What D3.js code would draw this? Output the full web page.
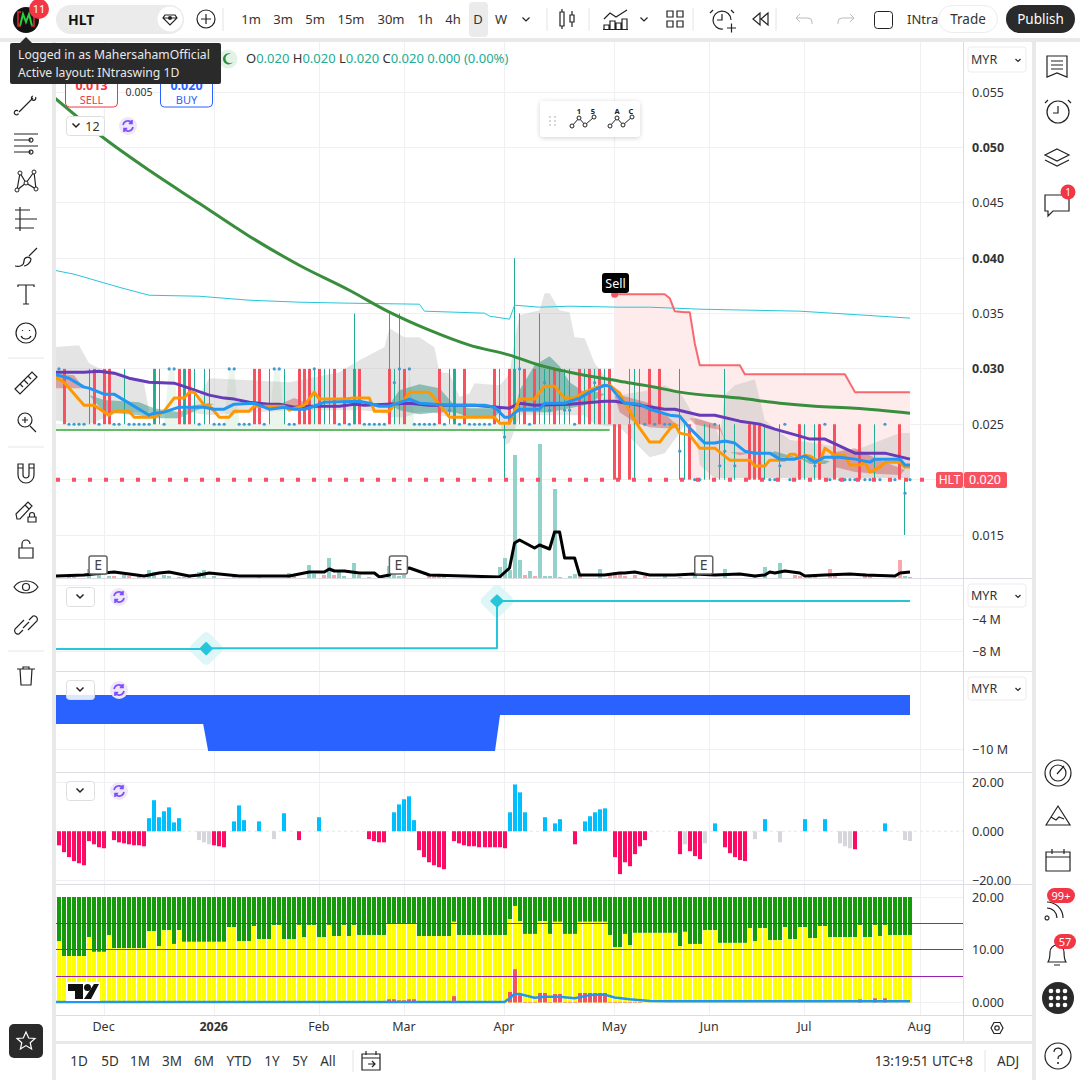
<!DOCTYPE html>
<html>
<head>
<meta charset="utf-8">
<title>HLT</title>
<script src="https://cdn.jsdelivr.net/npm/d3@7"></script>
<style>
html, body { margin: 0; padding: 0; background: #fff; }
svg { display: block; font-family: "Noto Sans", sans-serif; }
.ink { fill: none; stroke: #222; stroke-width: 1.2; }
.axis text { fill: #333; font-size: 12.5px; font-family: "Noto Sans", sans-serif; }
.axis .domain, .axis line { display: none; }
</style>
</head>
<body>
<script>
// bar index 0 is the first bar at the left edge, 170 the last
var timeIdx = [9, 31, 52, 69, 89, 111, 130, 149, 172];
var timeLabels = ["Dec", "2026", "Feb", "Mar", "Apr", "May", "Jun", "Jul", "Aug"];
var priceTicks = [0.015, 0.020, 0.025, 0.030, 0.035, 0.040, 0.045, 0.050, 0.055];
var priceLabelTicks = [0.015, 0.025, 0.030, 0.035, 0.040, 0.045, 0.050, 0.055];
var boldPrices = [0.030, 0.040, 0.050];

// candles: every price sits on the 0.005 grid
var redUpper = [1, 7, 9, 10, 19, 24, 25, 26, 39, 40, 48, 49, 50, 52, 55, 57, 59, 60, 66, 69, 76, 79, 81, 87, 90, 91, 93, 95, 99, 104, 106, 108, 110, 118, 120];
var redLower = [111, 112, 114, 126, 138, 139, 140, 148, 152, 155, 160, 168];
var thinRed = [114];
var wickIdx = [6, 10, 13, 19, 20, 25, 27, 29, 30, 42, 45, 48, 50, 51, 53, 54, 59, 66, 67, 68, 78, 79, 88, 89, 91, 92, 96, 97, 98, 100, 101, 102, 105, 107, 109, 115, 116, 124, 125, 129, 130, 132, 133, 135, 138, 140, 141, 144, 148, 149, 151, 152, 160, 163, 169];
var wickHigh = [0.03, 0.03, 0.03, 0.03, 0.03, 0.03, 0.03, 0.03, 0.03, 0.03, 0.03, 0.03, 0.03, 0.03, 0.03, 0.03, 0.035, 0.035, 0.03, 0.035, 0.03, 0.03, 0.03, 0.025, 0.04, 0.035, 0.035, 0.03, 0.03, 0.03, 0.03, 0.03, 0.03, 0.03, 0.03, 0.03, 0.03, 0.03, 0.025, 0.025, 0.025, 0.025, 0.03, 0.025, 0.025, 0.025, 0.025, 0.025, 0.025, 0.025, 0.025, 0.025, 0.025, 0.025, 0.02];
var wickLow = [0.025, 0.025, 0.025, 0.025, 0.025, 0.025, 0.025, 0.025, 0.025, 0.025, 0.025, 0.025, 0.025, 0.025, 0.025, 0.025, 0.025, 0.025, 0.025, 0.025, 0.025, 0.025, 0.025, 0.02, 0.025, 0.025, 0.025, 0.025, 0.025, 0.025, 0.025, 0.025, 0.025, 0.025, 0.025, 0.02, 0.025, 0.02, 0.02, 0.02, 0.02, 0.02, 0.02, 0.02, 0.02, 0.02, 0.02, 0.02, 0.02, 0.02, 0.02, 0.02, 0.02, 0.02, 0.015];

// small blue closes
var dots025 = [2, 3, 4, 5, 8, 11, 12, 14, 15, 16, 17, 18, 21, 28, 31, 32, 33, 36, 37, 38, 41, 46, 47, 56, 58, 61, 62, 63, 64, 65, 71, 72, 73, 74, 75, 77, 80, 82, 83, 84, 85, 86, 94, 103, 117, 119, 121, 122, 131, 145, 153, 165];
var dots020 = [127, 128, 142, 143, 146, 147, 154, 156, 157, 158, 159, 161, 162, 164, 167, 170];
var dots030 = [0, 22, 23, 34, 35, 43, 44, 51, 68, 70, 92];
var dots029 = [67, 97, 107];
var dots026 = [78, 88, 98, 101, 102];
var dots0226 = [124, 133];
var dots021 = [132, 135, 144, 151];
var dotsOther = [89, 169];
var dotsOtherPrice = [0.02384, 0.01878];

// moving averages, read at the visible corners of each line
var greenIdx = [-1, 9, 18, 28, 38, 48, 58, 66, 74, 82, 90, 96, 102, 112, 118, 124, 136, 144, 151, 159, 170];
var greenVal = [0.05452, 0.05082, 0.04793, 0.04495, 0.04198, 0.03936, 0.0371, 0.03512, 0.03349, 0.03214, 0.03124, 0.03033, 0.0297, 0.02889, 0.02844, 0.0279, 0.02736, 0.0269, 0.02663, 0.02645, 0.026];
var cyanIdx = [-1, 3, 12, 18, 28, 38, 48, 58, 72, 73, 85, 86, 90, 91, 96, 102, 112, 118, 128, 148, 164, 170];
var cyanVal = [0.03891, 0.03855, 0.03737, 0.03665, 0.03656, 0.0362, 0.03602, 0.03593, 0.03584, 0.03521, 0.03503, 0.03476, 0.03449, 0.03575, 0.03557, 0.03566, 0.03557, 0.03557, 0.03539, 0.03521, 0.03476, 0.03458];
var purpleIdx = [-1, 5, 8, 11, 14, 18, 23, 26, 30, 33, 35, 38, 42, 44, 47, 50, 56, 59, 61, 70, 74, 83, 90, 92, 95, 102, 109, 111, 116, 121, 123, 128, 131, 136, 140, 143, 148, 150, 153, 159, 165, 170];
var purpleVal = [0.0297, 0.0297, 0.02979, 0.02961, 0.02916, 0.0288, 0.02871, 0.02826, 0.02763, 0.02736, 0.02727, 0.02699, 0.02681, 0.02681, 0.02654, 0.02663, 0.02663, 0.02681, 0.02672, 0.0269, 0.02672, 0.02672, 0.02645, 0.02690, 0.02672, 0.02681, 0.02708, 0.02708, 0.02672, 0.02636, 0.02636, 0.02582, 0.02582, 0.02528, 0.02501, 0.02456, 0.02393, 0.02366, 0.02366, 0.02239, 0.02239, 0.02185];
var blueIdx = [-1, 2, 5, 6, 9, 11, 18, 19, 21, 24, 29, 31, 33, 35, 39, 42, 45, 47, 49, 51, 53, 60, 62, 64, 66, 70, 72, 78, 85, 87, 89, 90, 92, 96, 97, 101, 104, 106, 109, 110, 112, 113, 116, 118, 122, 124, 126, 129, 131, 133, 135, 137, 139, 142, 144, 147, 149, 151, 153, 156, 159, 162, 163, 168, 169, 170];
var blueVal = [0.02952, 0.02916, 0.02835, 0.02826, 0.02772, 0.02772, 0.02582, 0.026, 0.02609, 0.02654, 0.02654, 0.02636, 0.02636, 0.02681, 0.0269, 0.02636, 0.02654, 0.02636, 0.02636, 0.02663, 0.02699, 0.02708, 0.0269, 0.02663, 0.02663, 0.02727, 0.0269, 0.02672, 0.02672, 0.02654, 0.02564, 0.02564, 0.02636, 0.02636, 0.0269, 0.0269, 0.02736, 0.0279, 0.02853, 0.02844, 0.02736, 0.0269, 0.02681, 0.02636, 0.02582, 0.02573, 0.02465, 0.0233, 0.0233, 0.02348, 0.0233, 0.02257, 0.02239, 0.02239, 0.02185, 0.02185, 0.02212, 0.02158, 0.02203, 0.02203, 0.02185, 0.02158, 0.02185, 0.02185, 0.02131, 0.02131];
var orangeIdx = [-1, 1, 5, 7, 10, 11, 14, 15, 19, 21, 23, 25, 26, 27, 29, 30, 32, 34, 35, 38, 39, 45, 46, 49, 51, 52, 57, 59, 62, 63, 66, 67, 69, 70, 74, 78, 87, 88, 90, 92, 95, 97, 99, 101, 103, 105, 108, 110, 112, 115, 116, 118, 120, 122, 123, 124, 126, 128, 131, 134, 138, 139, 141, 142, 145, 146, 147, 148, 149, 150, 152, 153, 155, 157, 158, 160, 161, 162, 164, 165, 168, 169, 170];
var orangeVal = [0.02934, 0.0288, 0.02672, 0.02672, 0.02582, 0.02618, 0.02618, 0.02564, 0.02564, 0.02618, 0.02736, 0.02736, 0.0279, 0.0279, 0.02672, 0.02672, 0.02564, 0.02564, 0.02618, 0.02618, 0.02663, 0.02663, 0.02627, 0.02672, 0.0279, 0.02727, 0.02727, 0.02736, 0.02736, 0.02618, 0.02618, 0.02681, 0.02718, 0.0279, 0.0279, 0.02564, 0.02564, 0.0251, 0.0251, 0.02727, 0.02727, 0.02844, 0.02844, 0.02736, 0.02736, 0.0279, 0.02844, 0.02853, 0.02781, 0.02537, 0.02465, 0.02339, 0.02339, 0.02456, 0.02501, 0.0242, 0.02402, 0.02284, 0.02284, 0.02176, 0.02176, 0.02122, 0.02122, 0.02176, 0.02176, 0.0223, 0.0223, 0.02185, 0.02221, 0.02212, 0.02158, 0.02284, 0.02221, 0.02221, 0.02131, 0.02131, 0.02158, 0.02068, 0.02113, 0.02158, 0.02158, 0.02113, 0.02113];

// trailing stop after the sell signal and the shaded block under it
var trailIdx = [111, 121, 122, 123, 125, 126, 127, 128, 136, 137, 157, 159, 170];
var trailVal = [0.03674, 0.03674, 0.03638, 0.03521, 0.03512, 0.03512, 0.03232, 0.03033, 0.03033, 0.02952, 0.02952, 0.0279, 0.0279];
var trailLow = [0.025, 0.025, 0.025, 0.025, 0.025, 0.0201, 0.0201, 0.0201, 0.0201, 0.0201, 0.0201, 0.0201, 0.0201];

// grey, teal and red bands; top equals bottom where a band pinches out
var greyIdx = [-1, 4, 6, 8, 12, 17, 18, 26, 30, 46, 56, 60, 65, 66, 69, 72, 75, 76, 78, 80, 82, 83, 88, 89, 90, 91, 92, 96, 97, 98, 100, 102, 103, 105, 107, 112, 118, 121, 124, 125, 127, 128, 131, 132, 133, 135, 139, 141, 146, 151, 159, 168, 170];
var greyTop = [0.03196, 0.03214, 0.03051, 0.03006, 0.0297, 0.02871, 0.02609, 0.02609, 0.02916, 0.0288, 0.0297, 0.03078, 0.03196, 0.03367, 0.03286, 0.03286, 0.03196, 0.0297, 0.02961, 0.02745, 0.02781, 0.02871, 0.02853, 0.02898, 0.02961, 0.03259, 0.03485, 0.0353, 0.03683, 0.03683, 0.0353, 0.03512, 0.03286, 0.03277, 0.03051, 0.02763, 0.02808, 0.02853, 0.0279, 0.0272, 0.02564, 0.0255, 0.02501, 0.02357, 0.02763, 0.02853, 0.02907, 0.02537, 0.02357, 0.0233, 0.02266, 0.0242, 0.0242];
var greyBot = [0.02537, 0.02501, 0.02501, 0.02537, 0.02609, 0.02609, 0.02609, 0.02609, 0.02582, 0.02627, 0.02627, 0.02627, 0.02609, 0.02564, 0.02564, 0.02609, 0.02609, 0.02582, 0.02564, 0.02564, 0.02564, 0.02564, 0.02564, 0.02311, 0.0233, 0.02447, 0.02582, 0.02582, 0.02582, 0.02582, 0.02582, 0.02582, 0.02582, 0.02582, 0.02501, 0.02474, 0.02203, 0.02239, 0.0242, 0.02501, 0.02564, 0.02131, 0.02014, 0.02014, 0.02014, 0.02014, 0.02014, 0.02014, 0.02014, 0.02014, 0.02014, 0.02014, 0.02014];
var tealIdx = [6, 9, 16, 19, 24, 27, 30, 31, 66, 68, 72, 76, 79, 82, 87, 88, 91, 92, 95, 98, 100, 102, 105, 107, 109, 142, 143, 145, 148, 150, 153, 154, 167, 169];
var tealTop = [0.02763, 0.02718, 0.02699, 0.02645, 0.02609, 0.02672, 0.0269, 0.02681, 0.02681, 0.02808, 0.02862, 0.02826, 0.02672, 0.02645, 0.02645, 0.02609, 0.02609, 0.02808, 0.03033, 0.03115, 0.03024, 0.02880, 0.02790, 0.02799, 0.02772, 0.02239, 0.02257, 0.0223, 0.02194, 0.02176, 0.02176, 0.02167, 0.02167, 0.02149];
var tealBot = [0.02763, 0.02609, 0.02582, 0.02555, 0.02555, 0.02618, 0.02672, 0.02681, 0.02681, 0.02627, 0.02591, 0.02609, 0.02609, 0.02564, 0.02564, 0.02609, 0.02609, 0.02609, 0.02609, 0.02609, 0.02627, 0.02645, 0.02672, 0.02718, 0.02772, 0.02239, 0.02194, 0.02203, 0.02194, 0.0214, 0.0214, 0.02167, 0.02167, 0.02095];
var redBandIdx = [-1, 3, 5, 44, 47, 50, 51, 111, 112, 115, 118, 121, 123, 124, 126, 127, 132, 133, 134, 136, 138, 154, 155, 159, 164, 168, 169];
var redBandTop = [0.02961, 0.02943, 0.02826, 0.02681, 0.02736, 0.02681, 0.02654, 0.02754, 0.02763, 0.02727, 0.0269, 0.026, 0.0251, 0.02492, 0.02555, 0.02555, 0.02492, 0.02357, 0.02248, 0.02248, 0.02239, 0.02248, 0.02248, 0.02284, 0.02176, 0.02104, 0.02086];
var redBandBot = [0.02826, 0.02826, 0.02826, 0.02681, 0.02627, 0.02627, 0.02654, 0.02754, 0.02609, 0.02519, 0.02474, 0.02465, 0.02465, 0.02492, 0.02555, 0.02501, 0.02447, 0.02357, 0.02248, 0.02221, 0.02239, 0.02248, 0.02113, 0.02068, 0.0205, 0.02041, 0.02086];
var supportIdx = [-1, 21, 22, 23, 24, 33, 34, 35, 36, 42, 43, 44, 45, 50, 51, 52, 67, 68, 69, 70, 71, 110];
var supportTop = [0.025, 0.025, 0.03, 0.03, 0.025, 0.025, 0.03, 0.03, 0.025, 0.025, 0.03, 0.03, 0.025, 0.025, 0.03, 0.025, 0.025, 0.03, 0.025, 0.03, 0.025, 0.025];
var supportLine = 0.02447;
var lastClose = 0.020;

// volume in millions
var volUpIdx = [6, 8, 10, 13, 18, 19, 21, 22, 25, 28, 29, 31, 46, 50, 51, 54, 56, 57, 59, 60, 66, 67, 68, 69, 77, 88, 89, 90, 91, 92, 94, 96, 97, 98, 99, 100, 102, 103, 108, 121, 127, 133, 139, 141, 144, 150, 151, 169, 170];
var volUpVal = [0.9, 0.4, 0.2, 0.3, 0.8, 0.6, 0.3, 0.2, 0.1, 0.6, 0.8, 0.2, 0.5, 1.3, 0.4, 2.0, 0.6, 0.2, 1.5, 0.3, 1.2, 0.4, 0.2, 0.3, 0.2, 1.1, 2.0, 0.8, 12.3, 1.8, 0.7, 13.4, 0.2, 0.2, 8.9, 0.1, 0.2, 0.4, 0.9, 0.2, 0.3, 0.9, 0.2, 1.1, 1.5, 0.1, 0.2, 0.2, 0.1];
var volDownIdx = [2, 3, 11, 14, 16, 24, 26, 35, 40, 47, 53, 55, 62, 74, 75, 76, 93, 95, 104, 110, 111, 112, 113, 115, 117, 124, 147, 148, 154, 155, 161, 162, 168];
var volDownVal = [0.2, 0.1, 0.2, 0.2, 0.3, 0.1, 0.2, 0.1, 0.1, 0.2, 0.3, 0.3, 0.1, 0.2, 0.4, 0.3, 0.3, 0.2, 0.2, 0.3, 0.6, 0.5, 0.2, 0.3, 0.2, 0.1, 0.3, 0.2, 0.9, 0.3, 0.5, 0.3, 1.8];
var volMaIdx = [-1, 5, 11, 14, 17, 20, 22, 26, 28, 30, 32, 36, 46, 50, 53, 54, 55, 57, 60, 63, 64, 66, 67, 70, 74, 88, 90, 91, 92, 95, 96, 98, 99, 100, 101, 103, 104, 109, 112, 113, 115, 118, 123, 127, 131, 136, 139, 141, 142, 143, 145, 148, 149, 153, 158, 161, 167, 168, 170];
var volMaVal = [0.2, 0.3, 0.6, 0.4, 0.2, 0.5, 0.6, 0.2, 0.3, 0.5, 0.4, 0.2, 0.2, 0.6, 0.6, 0.9, 0.7, 0.7, 0.5, 0.5, 0.1, 0.3, 0.8, 1.0, 0.3, 0.1, 1.0, 3.5, 3.8, 3.0, 3.3, 2.9, 4.6, 4.6, 2.0, 2.0, 0.3, 0.3, 0.5, 0.5, 0.6, 0.3, 0.3, 0.4, 0.3, 0.4, 0.2, 0.3, 0.6, 0.5, 0.7, 0.5, 0.2, 0.3, 0.4, 0.3, 0.2, 0.5, 0.6];
var earningsIdx = [8, 68, 129];

// cash flow panes, millions
var flowIdx = [-1, 29.4, 29.4, 87.5, 87.5, 170];
var flowVal = [-7.75, -7.75, -7.65, -7.65, -1.75, -1.75];
var flowMarkIdx = [29.4, 87.5];
var flowMarkVal = [-7.7, -1.75];
var flowTicks = [-8, -4];
var netIdx = [-1, 28.8, 29.8, 87.1, 88.1, 170];
var netTop = [-4.6, -4.6, -4.6, -4.6, -4.6, -4.6];
var netBot = [-7.5, -7.5, -10.2, -10.2, -6.6, -6.6];
var netTicks = [-10];

// oscillator histogram
var oscIdx = [0, 1, 2, 3, 4, 5, 6, 7, 8, 9, 11, 12, 13, 14, 15, 16, 17, 18, 19, 20, 21, 22, 23, 24, 28, 29, 30, 31, 32, 33, 35, 36, 37, 40, 43, 45, 48, 52, 62, 63, 64, 65, 67, 68, 69, 70, 71, 72, 73, 74, 75, 76, 77, 79, 80, 81, 82, 83, 84, 85, 86, 87, 88, 89, 90, 91, 92, 93, 97, 99, 100, 103, 105, 106, 107, 108, 109, 111, 112, 113, 114, 115, 116, 117, 124, 125, 126, 127, 128, 129, 131, 133, 134, 135, 136, 137, 139, 141, 144, 149, 153, 156, 157, 158, 159, 165, 169, 170];
var oscVal = [-5.7, -8.5, -10.5, -12.1, -13, -13.8, -4, -5.3, -6.5, -6.9, -3.6, -4.5, -4.9, -5.3, -5.7, -5.7, -6.1, 5.3, 12.6, 5.7, 8.1, 9.7, 3.6, 5.3, -3.6, -4.5, -5.3, -5.7, -6.1, -6.5, 4, 10.5, 4.5, 4, -3.2, 7.3, -3.6, 5.7, -3.2, -4, -4.5, -4.5, 7.7, 10.9, 13, 14.2, 4.5, -7.7, -10.5, -12.6, -13.8, -14.6, -15.4, -4, -4.9, -5.7, -6.1, -6.1, -6.5, -6.5, -6.5, -6.5, -6.5, -6.9, 7.7, 19, 15.8, 7.7, 5.7, 3.2, 4.9, -5.3, 4, 6.1, 7.7, 8.9, 9.3, -10.5, -17.4, -12.6, -14.2, -9.3, -6.1, -3.6, -9.3, -5.3, -8.1, -10.1, -11.3, -4.9, 3.2, -6.5, -8.9, -10.5, -11.7, -12.1, -3.2, 4.9, -4.5, 4.9, 4.9, -4.9, -6.1, -6.9, -7.3, 3.2, -3.6, -4];
var oscGrey = [28, 29, 30, 43, 125, 129, 139, 144, 156, 157, 158, 169, 170];
var oscTicks = [-20, 0, 20];

// stacked pane: yellow level per bar, green always runs up to 20
var yellowVal = [11.6, 8.8, 8.8, 8.8, 8.8, 8.8, 12.4, 9.6, 9.6, 9.6, 12.8, 10.3, 10.3, 10.3, 10.3, 10.3, 10.3, 10.3, 13.5, 13.5, 10.7, 13.7, 13.7, 11.1, 13.7,
    11.5, 11.5, 11.5, 11.5, 11.5, 11.5, 11.5, 11.5, 11.5, 14.3, 14.3, 11.6, 11.6, 11.6, 14.5, 12, 12, 12, 14.7, 14.7, 12, 12, 12, 14.7, 12.4, 14.7, 14.7, 12.4, 12.4, 14.7, 12.6, 12.6, 14.7, 12.6, 14.7,
    12.8, 12.8, 12.8, 12.8, 12.8, 12.8, 14.9, 14.9, 14.9, 14.9, 14.9, 14.9, 12.6, 12.6, 12.6, 12.6, 12.6, 12.6, 12.6, 15.3, 12.8, 12.8, 12.8, 12.8, 12.8, 12.8, 12.8, 12.8, 12.8, 12.8,
    15.8, 18.3, 15.4, 13, 13, 13, 15.4, 15.4, 13, 15.3, 15.3, 13, 13, 13, 15.3, 15.3, 15.3, 15.3, 15.3, 15.3, 12.8, 10.5, 10.5, 13, 10.9,
    13.2, 13.2, 13.2, 13.2, 13.2, 13.2, 13.2, 13.2, 13.2, 10.7, 13.4, 11.1, 11.1, 11.1, 13.7, 13.7, 13.7, 11.3, 11.3, 11.3, 11.3, 11.3, 11.3, 14.1, 11.6, 14.1, 14.1, 11.8, 11.8, 11.8, 14.3, 12, 12, 14.3, 14.3, 12.2, 12.2, 14.5, 14.5,
    12.4, 12.4, 12.4, 12.4, 12.4, 12.4, 14.7, 12.4, 12.4, 14.7, 12.6, 14.7, 12.8, 12.8, 12.8, 12.8, 12.8];
var stackRedIdx = [66, 67, 68, 69, 70, 71, 79, 90, 91, 92, 93, 94, 95, 96, 97, 98, 99, 100, 101, 102, 103, 104, 105, 106, 107, 108, 109, 110, 111, 112, 113, 114, 115, 116, 160, 163, 165];
var stackRedVal = [0.6, 0.6, 0.4, 0.4, 0.6, 0.6, 1.2, 2.0, 6.3, 1.4, 0.1, 0.1, 0.1, 1.8, 1.8, 0.1, 1.6, 1.6, 0.1, 0.1, 0.1, 1.8, 1.8, 1.8, 1.8, 1.8, 1.8, 0.1, 0.1, 0.1, 0.1, 0.1, 0.1, 0.1, 0.6, 0.8, 0.8];
var stackLineIdx = [-1, 89, 90, 91, 92, 95, 97, 100, 103, 106, 109, 111, 114, 118, 122, 170];
var stackLineVal = [0.1, 0.1, 0.8, 1.6, 1.6, 0.9, 1.1, 1.1, 0.8, 1.4, 1.5, 0.95, 0.6, 0.3, 0.25, 0.25];
var stackLevels = [5, 10, 15];
var stackTicks = [0, 10, 20];

var rangeLabels = ["1D", "5D", "1M", "3M", "6M", "YTD", "1Y", "5Y", "All"];
var rangeX = [79, 110, 140, 172, 204, 239, 272, 300, 328];
var intervalLabels = ["1m", "3m", "5m", "15m", "30m", "1h", "4h", "D", "W"];
var intervalX = [251, 283, 315, 351, 391, 425, 453, 478, 501];

(function () {
    "use strict";
    var PLOT_LEFT = 56, PLOT_RIGHT = 963,
        STRIP = "#e9e9e9", GRID = "#f0f0f3",
        TEAL = "#22ab94", RED = "#f7525f", TEXT = "#333",
        svg = d3.select("body").append("svg").attr("width", 1080).attr("height", 1080),
        defs = svg.append("defs"),
        x = d3.scaleLinear().domain([0, 170]).range([59, 910]),
        yPrice = d3.scaleLinear().domain([0.015, 0.055]).range([535, 92]),
        yVol = d3.scaleLinear().domain([0, 13.4]).range([578, 444]),
        yFlow = d3.scaleLinear().domain([-8, -4]).range([651, 619]),
        yNet = d3.scaleLinear().domain([-10, -4.6]).range([749, 695]),
        yOsc = d3.scaleLinear().domain([-20, 20]).range([880.5, 782]),
        yStack = d3.scaleLinear().domain([0, 20]).range([1002.5, 897]),
        panes = [[42, 578], [578, 671], [671, 772], [772, 884], [884, 1015]],
        plot;

    function crisp(v) {
        return Math.floor(v) + 0.5;
    }

    function label(text, px, py, size, fill, anchor, weight) {
        return svg.append("text").attr("x", px).attr("y", py)
            .attr("font-size", size).attr("fill", fill || TEXT)
            .attr("text-anchor", anchor || "start")
            .attr("font-weight", weight || 400).text(text);
    }

    function icon(px, py, d, width) {
        return svg.append("path").attr("class", "ink")
            .attr("transform", "translate(" + px + "," + py + ")")
            .style("stroke-width", width || 1.2).attr("d", d);
    }

    function area(group, idx, top, bot, scale, fill, opacity) {
        group.append("path")
            .datum(d3.zip(idx, top, bot))
            .attr("fill", fill).attr("opacity", opacity)
            .attr("d", d3.area().x(function (d) { return x(d[0]); })
                .y0(function (d) { return scale(d[2]); })
                .y1(function (d) { return scale(d[1]); }));
    }

    function line(group, idx, val, scale, color, width, curve) {
        group.append("path")
            .datum(d3.zip(idx, val))
            .attr("fill", "none").attr("stroke", color).attr("stroke-width", width)
            .attr("stroke-linejoin", "round")
            .attr("d", d3.line().x(function (d) { return x(d[0]); })
                .y(function (d) { return scale(d[1]); })
                .curve(curve || d3.curveLinear));
    }

    // bars snap to whole pixels like the original canvas
    function bars(group, idx, top, bot, scale, color, width) {
        group.selectAll(null).data(d3.zip(idx, top, bot)).enter().append("rect")
            .attr("x", function (d) { return Math.round(x(d[0]) - width / 2); })
            .attr("width", width)
            .attr("y", function (d) { return Math.min(scale(d[1]), scale(d[2])); })
            .attr("height", function (d) { return Math.abs(scale(d[1]) - scale(d[2])); })
            .attr("fill", color);
    }

    function constant(arr, v) {
        return arr.map(function () { return v; });
    }

    function axisLabels(scale, ticks, fmt) {
        return svg.append("g").attr("class", "axis")
            .attr("transform", "translate(" + PLOT_RIGHT + ",0)")
            .call(d3.axisRight(scale).tickValues(ticks).tickSize(0).tickPadding(9).tickFormat(fmt));
    }

    function hgrid(scale, ticks) {
        svg.append("g").selectAll("line").data(ticks).enter().append("line")
            .attr("x1", PLOT_LEFT).attr("x2", PLOT_RIGHT)
            .attr("y1", function (d) { return crisp(scale(d)); })
            .attr("y2", function (d) { return crisp(scale(d)); })
            .attr("stroke", GRID);
    }

    // ---------- frame and grid
    svg.append("rect").attr("width", 1080).attr("height", 1080).attr("fill", "#fff");
    panes.forEach(function (p, i) {
        defs.append("clipPath").attr("id", "pane" + i).append("rect")
            .attr("x", PLOT_LEFT).attr("y", p[0]).attr("width", PLOT_RIGHT - PLOT_LEFT).attr("height", p[1] - p[0]);
        svg.append("g").selectAll("line").data(timeIdx).enter().append("line")
            .attr("x1", function (d) { return crisp(x(d)); })
            .attr("x2", function (d) { return crisp(x(d)); })
            .attr("y1", p[0]).attr("y2", p[1])
            .attr("stroke", GRID);
    });
    hgrid(yPrice, priceTicks);
    hgrid(yFlow, flowTicks);
    hgrid(yNet, netTicks);
    hgrid(yOsc, [-20, 20]);
    hgrid(yStack, stackTicks);
    svg.selectAll(null).data([578, 671, 772, 884, 1015]).enter().append("line")
        .attr("x1", PLOT_LEFT).attr("x2", 1032)
        .attr("y1", function (d) { return d + 0.5; }).attr("y2", function (d) { return d + 0.5; })
        .attr("stroke", "#dcdce2");
    svg.append("line").attr("x1", PLOT_LEFT).attr("x2", PLOT_RIGHT).attr("y1", 585.5).attr("y2", 585.5).attr("stroke", GRID);

    // ---------- main pane
    plot = svg.append("g").attr("clip-path", "url(#pane0)");
    area(plot, trailIdx, trailVal, trailLow, yPrice, "#feecec", 1);
    area(plot, supportIdx, supportTop, constant(supportIdx, supportLine), yPrice, "#e6f3e8", 0.85);
    area(plot, greyIdx, greyTop, greyBot, yPrice, "#b5b5b5", 0.36);
    area(plot, redBandIdx, redBandTop, redBandBot, yPrice, "#c8494a", 0.42);
    area(plot, tealIdx, tealTop, tealBot, yPrice, "#1f8a78", 0.45);

    plot.append("line").attr("x1", PLOT_LEFT).attr("x2", x(110))
        .attr("y1", yPrice(supportLine)).attr("y2", yPrice(supportLine))
        .attr("stroke", "#66bb6a").attr("stroke-width", 2);

    bars(plot, volUpIdx, volUpVal, constant(volUpIdx, 0), yVol, "#92d2ca", 4);
    bars(plot, volDownIdx, volDownVal, constant(volDownIdx, 0), yVol, "#f5a9ae", 4);

    bars(plot, redUpper, constant(redUpper, 0.030), constant(redUpper, 0.025), yPrice, RED, 3);
    bars(plot, redLower, constant(redLower, 0.025), constant(redLower, 0.020), yPrice, RED, 3);
    bars(plot, thinRed, constant(thinRed, 0.030), constant(thinRed, 0.025), yPrice, RED, 1);
    bars(plot, wickIdx, wickHigh, wickLow, yPrice, TEAL, 1);

    [[dots025, 0.025], [dots020, 0.020], [dots030, 0.030], [dots029, 0.02875], [dots026, 0.02627], [dots0226, 0.02257], [dots021, 0.02125]].forEach(function (row) {
        plot.selectAll(null).data(row[0]).enter().append("circle")
            .attr("cx", x).attr("cy", yPrice(row[1])).attr("r", 1.6).attr("fill", "#3f9bd0");
    });
    plot.selectAll(null).data(d3.zip(dotsOther, dotsOtherPrice)).enter().append("circle")
        .attr("cx", function (d) { return x(d[0]); }).attr("cy", function (d) { return yPrice(d[1]); })
        .attr("r", 1.6).attr("fill", "#3f9bd0");

    line(plot, cyanIdx, cyanVal, yPrice, "#26c6da", 1);
    line(plot, greenIdx, greenVal, yPrice, "#388e3c", 3, d3.curveMonotoneX);
    line(plot, trailIdx, trailVal, yPrice, "#f7696f", 2);
    line(plot, purpleIdx, purpleVal, yPrice, "#673ab7", 3);
    line(plot, orangeIdx, orangeVal, yPrice, "#ff9800", 3);
    line(plot, blueIdx, blueVal, yPrice, "#2196f3", 3);

    plot.append("line").attr("x1", PLOT_LEFT).attr("x2", 936)
        .attr("y1", yPrice(lastClose)).attr("y2", yPrice(lastClose))
        .attr("stroke", RED).attr("stroke-width", 4).attr("stroke-dasharray", "4 12");

    line(plot, volMaIdx, volMaVal, yVol, "#000", 3);

    earningsIdx.forEach(function (i) {
        var g = svg.append("g").attr("transform", "translate(" + (x(i) - 1) + ",565)");
        g.append("rect").attr("x", -9).attr("y", -9).attr("width", 18).attr("height", 18).attr("rx", 2)
            .attr("fill", "#fff").attr("stroke", "#666").attr("stroke-width", 1.5);
        g.append("text").attr("text-anchor", "middle").attr("y", 5).attr("font-size", 14).attr("fill", "#444").text("E");
    });

    // sell marker
    svg.append("circle").attr("cx", x(111)).attr("cy", yPrice(trailVal[0])).attr("r", 3.5).attr("fill", RED);
    svg.append("rect").attr("x", 602).attr("y", 273).attr("width", 27).attr("height", 20).attr("rx", 3).attr("fill", "#000");
    label("Sell", 615.5, 288, 12.5, "#fff", "middle");

    // ---------- flow pane
    plot = svg.append("g").attr("clip-path", "url(#pane1)");
    plot.selectAll(null).data(d3.zip(flowMarkIdx, flowMarkVal)).enter().append("rect")
        .attr("x", -13).attr("y", -13).attr("width", 26).attr("height", 26).attr("rx", 5)
        .attr("fill", "#dff6f9")
        .attr("transform", function (d) { return "translate(" + x(d[0]) + "," + yFlow(d[1]) + ") rotate(45)"; });
    line(plot, flowIdx, flowVal, yFlow, "#26c6da", 2);
    plot.selectAll(null).data(d3.zip(flowMarkIdx, flowMarkVal)).enter().append("rect")
        .attr("x", -5).attr("y", -5).attr("width", 10).attr("height", 10).attr("rx", 1)
        .attr("fill", "#26c6da")
        .attr("transform", function (d) { return "translate(" + x(d[0]) + "," + yFlow(d[1]) + ") rotate(45)"; });

    // ---------- net pane
    plot = svg.append("g").attr("clip-path", "url(#pane2)");
    area(plot, netIdx, netTop, netBot, yNet, "#2962ff", 1);

    // ---------- oscillator pane
    plot = svg.append("g").attr("clip-path", "url(#pane3)");
    plot.append("line").attr("x1", PLOT_LEFT).attr("x2", PLOT_RIGHT)
        .attr("y1", yOsc(0)).attr("y2", yOsc(0))
        .attr("stroke", "#e6e6ea").attr("stroke-dasharray", "3 3");
    plot.selectAll(null).data(d3.zip(oscIdx, oscVal)).enter().append("rect")
        .attr("x", function (d) { return Math.round(x(d[0]) - 2); }).attr("width", 4)
        .attr("y", function (d) { return Math.min(yOsc(d[1]), yOsc(0)); })
        .attr("height", function (d) { return Math.abs(yOsc(d[1]) - yOsc(0)); })
        .attr("fill", function (d) {
            if (oscGrey.indexOf(d[0]) >= 0) { return "#d6d6dc"; }
            return d[1] > 0 ? "#00bfff" : "#ff0a64";
        });

    // ---------- stacked pane
    plot = svg.append("g").attr("clip-path", "url(#pane4)");
    var allBars = d3.range(yellowVal.length);
    bars(plot, allBars, constant(allBars, 20), yellowVal, yStack, "#149a0a", 4);
    bars(plot, allBars, yellowVal, constant(allBars, 0), yStack, "#ffff00", 4);
    bars(plot, stackRedIdx, stackRedVal, constant(stackRedIdx, 0), yStack, RED, 4);
    plot.selectAll(null).data(stackLevels).enter().append("line")
        .attr("x1", PLOT_LEFT).attr("x2", PLOT_RIGHT)
        .attr("y1", function (d) { return crisp(yStack(d)); })
        .attr("y2", function (d) { return crisp(yStack(d)); })
        .attr("stroke", "#9a1fb0").attr("stroke-width", 1);
    line(plot, stackLineIdx, stackLineVal, yStack, "#2196f3", 2.5);

    // tradingview mark
    svg.append("rect").attr("x", 66).attr("y", 982).attr("width", 34).attr("height", 19).attr("fill", "#fff");
    svg.append("path").attr("fill", "#111")
        .attr("d", "M68,984H83V999H75V991H68ZM94,984H99L91,999H84Z");
    svg.append("circle").attr("cx", 87.5).attr("cy", 987.5).attr("r", 3.5).attr("fill", "#111");

    // ---------- strips around the chart
    svg.append("rect").attr("y", 38).attr("width", 1080).attr("height", 4).attr("fill", STRIP);
    svg.append("rect").attr("x", 52).attr("y", 38).attr("width", 4).attr("height", 1042).attr("fill", STRIP);
    svg.append("rect").attr("x", 1032).attr("y", 38).attr("width", 4).attr("height", 1042).attr("fill", STRIP);
    svg.append("rect").attr("x", 56).attr("y", 1041).attr("width", 976).attr("height", 3).attr("fill", STRIP);
    svg.append("line").attr("x1", PLOT_RIGHT + 0.5).attr("x2", PLOT_RIGHT + 0.5).attr("y1", 42).attr("y2", 1041).attr("stroke", "#dcdce2");

    // ---------- value axes
    axisLabels(yPrice, priceLabelTicks, d3.format(".3f")).selectAll("text")
        .attr("font-weight", function (d) {
            return boldPrices.some(function (b) { return Math.abs(b - d) < 1e-9; }) ? 700 : 400;
        });
    var millions = function (d) { return "\u2212" + Math.abs(d) + " M"; };
    axisLabels(yFlow, flowTicks, millions);
    axisLabels(yNet, netTicks, millions);
    axisLabels(yOsc, oscTicks, function (d) { return d === 0 ? "0.000" : (d < 0 ? "\u221220.00" : "20.00"); });
    axisLabels(yStack, stackTicks, function (d) { return d === 0 ? "0.000" : d3.format(".2f")(d); });

    // last price tag
    svg.append("rect").attr("x", 936).attr("y", 472).attr("width", 27).attr("height", 16).attr("rx", 2).attr("fill", RED);
    svg.append("rect").attr("x", 964).attr("y", 472).attr("width", 43).attr("height", 16).attr("rx", 2).attr("fill", RED);
    label("HLT", 949.5, 484, 12, "#fff", "middle");
    label(d3.format(".3f")(lastClose), 985, 484, 12.5, "#fff", "middle");

    // currency selectors
    [[47, 72, 64], [584, 607, 600], [677, 700, 693]].forEach(function (c) {
        svg.append("rect").attr("x", 968).attr("y", c[0]).attr("width", 58).attr("height", c[1] - c[0])
            .attr("rx", 3).attr("fill", "#fff").attr("stroke", "#ececec");
        label("MYR", 971, c[2], 12.5, TEXT);
        icon(1018, c[2] - 4, "M-2.5,-1L0,1.5L2.5,-1", 1.2);
    });

    // ---------- time axis
    var timeAxis = svg.append("g").attr("class", "axis").attr("transform", "translate(-1,1015)")
        .call(d3.axisBottom(x).tickValues(timeIdx).tickSize(0).tickPadding(7)
            .tickFormat(function (d) { return timeLabels[timeIdx.indexOf(d)]; }));
    timeAxis.selectAll("text").attr("font-weight", function (d) { return d === 31 ? 700 : 400; });
    icon(997, 1028, "M-6,0L-3,-5.5H3L6,0L3,5.5H-3ZM2.2,0A2.2,2.2 0 1 1 -2.2,0A2.2,2.2 0 1 1 2.2,0");

    // ---------- legend row
    var ohlc = svg.append("text").attr("x", 246).attr("y", 63).attr("font-size", 13);
    [["O", TEXT], ["0.020", TEAL], [" H", TEXT], ["0.020", TEAL], [" L", TEXT], ["0.020", TEAL], [" C", TEXT], ["0.020", TEAL], [" 0.000 (0.00%)", TEAL]].forEach(function (t) {
        ohlc.append("tspan").attr("fill", t[1]).attr("xml:space", "preserve").text(t[0]);
    });
    svg.append("circle").attr("cx", 228).attr("cy", 59).attr("r", 9.5).attr("fill", "#e3f2e6");
    svg.append("path").attr("fill", "#2e8b3d").attr("d", "M231,54A5.5,5.5 0 1 0 233,62A4.6,4.6 0 1 1 231,54Z");

    // sell / buy boxes
    svg.append("rect").attr("x", 65.5).attr("y", 70).attr("width", 52).attr("height", 37).attr("rx", 4).attr("fill", "#fff").attr("stroke", "#f23645");
    svg.append("rect").attr("x", 160.5).attr("y", 70).attr("width", 52).attr("height", 37).attr("rx", 4).attr("fill", "#fff").attr("stroke", "#2962ff");
    label("0.013", 91.5, 90, 12.5, "#f23645", "middle", 700);
    label("SELL", 91.5, 104, 11, "#f23645", "middle");
    label("0.020", 186.5, 90, 12.5, "#2962ff", "middle", 700);
    label("BUY", 186.5, 104, 11, "#2962ff", "middle");
    label("0.005", 139, 96, 10.5, TEXT, "middle");

    // pane controls
    [[66, 116, 38], [66, 587, 28], [66, 680, 28], [66, 781, 28]].forEach(function (c, i) {
        svg.append("rect").attr("x", c[0] + 0.5).attr("y", c[1] + 0.5).attr("width", c[2]).attr("height", 19).attr("rx", 3)
            .attr("fill", "#fff").attr("fill-opacity", i === 2 ? 0.85 : 1).attr("stroke", "#dedede");
        icon(i === 0 ? 76 : 80, c[1] + 9, "M-3.5,-1.5L0,2L3.5,-1.5", 1.5);
        var cx = i === 0 ? 128 : 119;
        svg.append("circle").attr("cx", cx).attr("cy", c[1] + 10).attr("r", 9).attr("fill", "#ede7f6");
        svg.append("path").attr("fill", "none").attr("stroke", "#7c4dff").attr("stroke-width", 1.6)
            .attr("transform", "translate(" + cx + "," + (c[1] + 10) + ")")
            .attr("d", "M-5,-1A5,5 0 0 1 4,-3M5,1A5,5 0 0 1 -4,3M4,-6V-2.6H0.8M-4,6V2.6H-0.8");
    });
    label("12", 92.5, 131, 12.5, TEXT, "middle");

    // floating drawing bar
    defs.append("filter").attr("id", "soft").attr("x", "-20%").attr("y", "-30%").attr("width", "140%").attr("height", "170%")
        .append("feDropShadow").attr("dx", 0).attr("dy", 1).attr("stdDeviation", 2.5).attr("flood-opacity", 0.18);
    svg.append("rect").attr("x", 540).attr("y", 101).attr("width", 100).attr("height", 36).attr("rx", 4).attr("fill", "#fff").attr("filter", "url(#soft)");
    svg.selectAll(null).data([116, 120, 124]).enter().append("g").each(function (py) {
        d3.select(this).selectAll("rect").data([549, 554]).enter().append("rect")
            .attr("x", Number).attr("y", py).attr("width", 2).attr("height", 2).attr("fill", "#d8d8d8");
    });
    [[583, "1", "5"], [621, "A", "C"]].forEach(function (w) {
        icon(w[0], 120, "M-11,6L-4,-2L2,5L11,-3", 1);
        [[-11, 6], [-4, -2], [2, 5], [11, -3]].forEach(function (p) {
            svg.append("circle").attr("cx", w[0] + p[0]).attr("cy", 120 + p[1]).attr("r", 2).attr("fill", "#fff").attr("stroke", "#222");
        });
        label(w[1], w[0] - 4, 114, 7.5, "#222", "middle", 700);
        label(w[2], w[0] + 10, 114, 7.5, "#222", "middle", 700);
    });

    // ---------- top bar
    svg.append("circle").attr("cx", 26).attr("cy", 20).attr("r", 13).attr("fill", "#111");
    svg.append("path").attr("fill", "none").attr("stroke", "#2ecc40").attr("stroke-width", 2).attr("d", "M20,26L23,14L26,22L29,14L32,26");
    svg.append("path").attr("fill", "none").attr("stroke", "#e0262e").attr("stroke-width", 1.6).attr("d", "M21,12H18V26H21M31,12H34V26H31");
    svg.append("circle").attr("cx", 39).attr("cy", 9).attr("r", 10).attr("fill", "#f23645");
    label("11", 39, 13, 11, "#fff", "middle");

    svg.append("rect").attr("x", 56).attr("y", 5).attr("width", 128).attr("height", 29).attr("rx", 14.5).attr("fill", "#ebebeb");
    label("HLT", 68, 25, 14, "#111", "start", 700);
    svg.append("circle").attr("cx", 170).attr("cy", 19).attr("r", 12.5).attr("fill", "#fff");
    icon(170, 19, "M-5,-4H5L7,-1L0,6L-7,-1ZM-7,-1H7");
    svg.append("circle").attr("cx", 170).attr("cy", 18).attr("r", 2).attr("fill", "#222");
    icon(206, 19, "M9,0A9,9 0 1 1 -9,0A9,9 0 1 1 9,0M-5,0H5M0,-5V5");

    svg.append("rect").attr("x", 469).attr("y", 2).attr("width", 19).attr("height", 35).attr("rx", 4).attr("fill", "#ebebeb");
    intervalLabels.forEach(function (t, i) {
        label(t, intervalX[i], 24, 13, TEXT, "middle");
    });
    icon(526, 19, "M-3.5,-1.5L0,2L3.5,-1.5");
    [223, 547, 589, 693, 776].forEach(function (sx) {
        svg.append("line").attr("x1", sx).attr("x2", sx).attr("y1", 8).attr("y2", 31).attr("stroke", "#e4e4e4");
    });
    icon(567, 19, "M-7,-7H-3V7H-7ZM-5,-10V-7M-5,7V10M3,-4H7V3H3ZM5,-8V-4M5,3V8");
    icon(616, 20, "M-12,-1L-6,-7L0,-3L11,-10M-12,9V5H-7V9M-6,9V1H-1V9M0,9V3H5V9M6,9V-1H11V9M-13,9.5H12");
    icon(644, 19, "M-3.5,-1.5L0,2L3.5,-1.5");
    icon(675, 19, "M-8,-8H-2V-2H-8ZM2,-8H8V-2H2ZM-8,2H-2V8H-8ZM2,2H8V8H2Z");
    icon(722, 19, "M9,1A9,9 0 1 0 1,10M0,-5V1H-5M-9,-9L-12,-6M9,-9L12,-6M5,9H14M9.5,4.5V13.5");
    icon(761, 19, "M-1,-6L-8,0L-1,6ZM7,-6L0,0L7,6Z");
    svg.append("path").attr("d", "M800,14L796,18L800,22M796,18H808A4,4 0 0 1 812,22V24M850,14L854,18L850,22M854,18H842A4,4 0 0 0 838,22V24")
        .attr("fill", "none").attr("stroke", "#bbb");
    svg.append("rect").attr("x", 874.5).attr("y", 11.5).attr("width", 18).attr("height", 17).attr("rx", 3).attr("fill", "none").attr("stroke", "#222");
    label("INtra", 907, 24, 13, TEXT);
    svg.append("rect").attr("x", 938.5).attr("y", 5.5).attr("width", 59).attr("height", 27).attr("rx", 13.5).attr("fill", "#fff").attr("stroke", "#ececec");
    label("Trade", 968, 24, 13.5, TEXT, "middle");
    svg.append("rect").attr("x", 1006).attr("y", 5).attr("width", 69).attr("height", 28).attr("rx", 14).attr("fill", "#2a2a2a");
    label("Publish", 1040.5, 24, 13.5, "#fff", "middle");

    // ---------- left toolbar
    icon(26, 105, "M-7,7L7,-7M-7.5,8.5A2.2,2.2 0 1 1 -8,6M9.5,-8A2.2,2.2 0 1 1 7,-9");
    icon(26, 143, "M-12,-9H12M-12,-3H5M-12,3H12M-12,9H5M7,-3A2,2 0 1 0 7,-2.9M7,9A2,2 0 1 0 7,9.1");
    icon(26, 181, "M-9,9L-6,-8L0,2L8,-9L10,8L0,2L-9,9");
    [[-9, 9], [-6, -8], [0, 2], [8, -9], [10, 8]].forEach(function (p) {
        svg.append("circle").attr("cx", 26 + p[0]).attr("cy", 181 + p[1]).attr("r", 2).attr("fill", "#fff").attr("stroke", "#222");
    });
    icon(26, 219, "M-11,-9H4M-11,0H11M-11,9H8M-6,-12V12");
    icon(26, 257, "M-11,9C-7,10 -2,9 -2,4C-2,0 3,-1 5,2C5,6 0,9 -2,9M3,-1L11,-9");
    icon(26, 295, "M-8,-8V-10H8V-8M0,-10V9M-3,9H3");
    icon(26, 333, "M10,0A10,10 0 1 1 -10,0A10,10 0 1 1 10,0M-5,3C-3,7 3,7 5,3M-3.5,-3V-2M3.5,-3V-2");
    icon(26, 383, "M-11,6L6,-11L11,-6L-6,11ZM-6,1L-3,4M-2,-3L2,1M2,-7L5,-4");
    icon(26, 421, "M6,-1A7,7 0 1 1 -8,-1A7,7 0 1 1 6,-1M4,5L10,11M-4,-1H2M-1,-4V2");
    icon(26, 473, "M-8,-9V2A8,8 0 0 0 8,2V-9H3V2A3,3 0 0 1 -3,2V-9ZM-8,-5H-3M3,-5H8");
    icon(26, 511, "M-9,8L-10,3L2,-9L6,-5L-6,8ZM-1,-6L3,-2M2,6H10V11H2ZM3.5,6V4A2.5,2.5 0 0 1 8.5,4V6");
    icon(26, 549, "M-7,-1H7V9H-7ZM-4,-1V-5A4,4 0 0 1 4,-5");
    icon(26, 587, "M-12,0C-7,-8 7,-8 12,0C7,8 -7,8 -12,0ZM3.5,0A3.5,3.5 0 1 1 -3.5,0A3.5,3.5 0 1 1 3.5,0");
    icon(26, 625, "M-3,5L-7,9A3.5,3.5 0 0 1 -11,4L-2,-5M3,-5L7,-9A3.5,3.5 0 0 1 11,-4L2,5M-3,3L3,-3");
    svg.selectAll(null).data([358, 447, 651]).enter().append("line")
        .attr("x1", 8).attr("x2", 44).attr("y1", Number).attr("y2", Number).attr("stroke", "#e6e6e6");
    icon(26, 676, "M-9,-7H9M-6,-7L-5,9H5L6,-7M-3,-7V-9H3V-7");
    svg.append("rect").attr("x", 9).attr("y", 1024).attr("width", 34).attr("height", 34).attr("rx", 5).attr("fill", "#2a2a2a");
    icon(26, 1041, "M0,-9L2.7,-3L9,-2.5L4.2,1.7L5.6,8L0,4.6L-5.6,8L-4.2,1.7L-9,-2.5L-2.7,-3Z").style("stroke", "#fff");

    // tooltip over the toolbar
    svg.append("path").attr("fill", "#2a2a2a").attr("d", "M20,43L26,37L32,43Z");
    svg.append("rect").attr("x", 10).attr("y", 43).attr("width", 211).attr("height", 41).attr("rx", 2).attr("fill", "#2a2a2a");
    label("Logged in as MahersahamOfficial", 18, 59, 12.2, "#e8e8e8");
    label("Active layout: INtraswing 1D", 18, 77, 12.2, "#e8e8e8");

    // ---------- right toolbar
    icon(1057, 66, "M-10,-10H10V11L0,7L-10,11ZM-6,-5H6M-6,-1H6M-6,3H6");
    icon(1058, 111, "M11,1A11,11 0 1 1 -11,1A11,11 0 1 1 11,1M0,-5V2H-5M-10,-11L-13,-8M10,-11L13,-8");
    icon(1057, 158, "M0,-9L12,-3L0,3L-12,-3ZM-12,2L0,8L12,2");
    icon(1057, 204, "M-12,-9H12V7H-4L-9,12V7H-12Z");
    svg.append("circle").attr("cx", 1068).attr("cy", 192).attr("r", 7.5).attr("fill", "#f23645");
    label("1", 1068, 196, 10, "#fff", "middle");
    icon(1058, 773, "M13,0A13,13 0 1 1 -13,0A13,13 0 1 1 13,0M8,0A8,8 0 1 1 -8,0A8,8 0 1 1 8,0M-1,1L6,-7");
    icon(1058, 816, "M-12,9L0,-10L12,9ZM-7,1L-2,4L1,1L6,3");
    icon(1058, 860, "M-12,-8H12V11H-12ZM-12,-3H12M-6,-11V-6M6,-11V-6");
    icon(1057, 908, "M-10,-6A16,16 0 0 1 6,10M-10,0A10,10 0 0 1 0,10M-8,10A2,2 0 1 1 -8,9.9");
    svg.append("rect").attr("x", 1047).attr("y", 888).attr("width", 28).attr("height", 15).attr("rx", 7.5).attr("fill", "#f23645");
    label("99+", 1061, 900, 11, "#fff", "middle");
    icon(1057, 954, "M-9,8C-7,5 -7,2 -7,-2A7,7 0 0 1 7,-2C7,2 7,5 9,8ZM-3,11H3");
    svg.append("rect").attr("x", 1054).attr("y", 934).attr("width", 22).attr("height", 15).attr("rx", 7.5).attr("fill", "#f23645");
    label("57", 1065, 946, 11, "#fff", "middle");
    svg.append("circle").attr("cx", 1058).attr("cy", 998).attr("r", 16).attr("fill", "#2a2a2a");
    d3.range(3).forEach(function (r) {
        svg.selectAll(null).data(d3.range(3)).enter().append("circle")
            .attr("cx", function (c) { return 1051 + c * 7; }).attr("cy", 991 + r * 7).attr("r", 2.3).attr("fill", "#fff");
    });
    icon(1058, 1056, "M13,0A13,13 0 1 1 -13,0A13,13 0 1 1 13,0M-4,-4A4,4 0 1 1 1,0C0,1 0,2 0,3");
    svg.append("circle").attr("cx", 1058).attr("cy", 1063).attr("r", 1).attr("fill", "#222");

    // ---------- bottom bar
    rangeLabels.forEach(function (t, i) {
        label(t, rangeX[i], 1066, 13.5, TEXT, "middle");
    });
    icon(371, 1061, "M-9,-7H9V9H-9ZM-9,-3H9M-5,-10V-6M5,-10V-6M-3,3H4M1,0L4,3L1,6");
    svg.append("line").attr("x1", 353).attr("x2", 353).attr("y1", 1050).attr("y2", 1072).attr("stroke", "#e4e4e4");
    label("13:19:51 UTC+8", 973, 1066, 13.5, TEXT, "end");
    svg.append("line").attr("x1", 985).attr("x2", 985).attr("y1", 1050).attr("y2", 1072).attr("stroke", "#e4e4e4");
    label("ADJ", 1008, 1066, 13.5, TEXT, "middle");
}());
</script>
</body>
</html>
